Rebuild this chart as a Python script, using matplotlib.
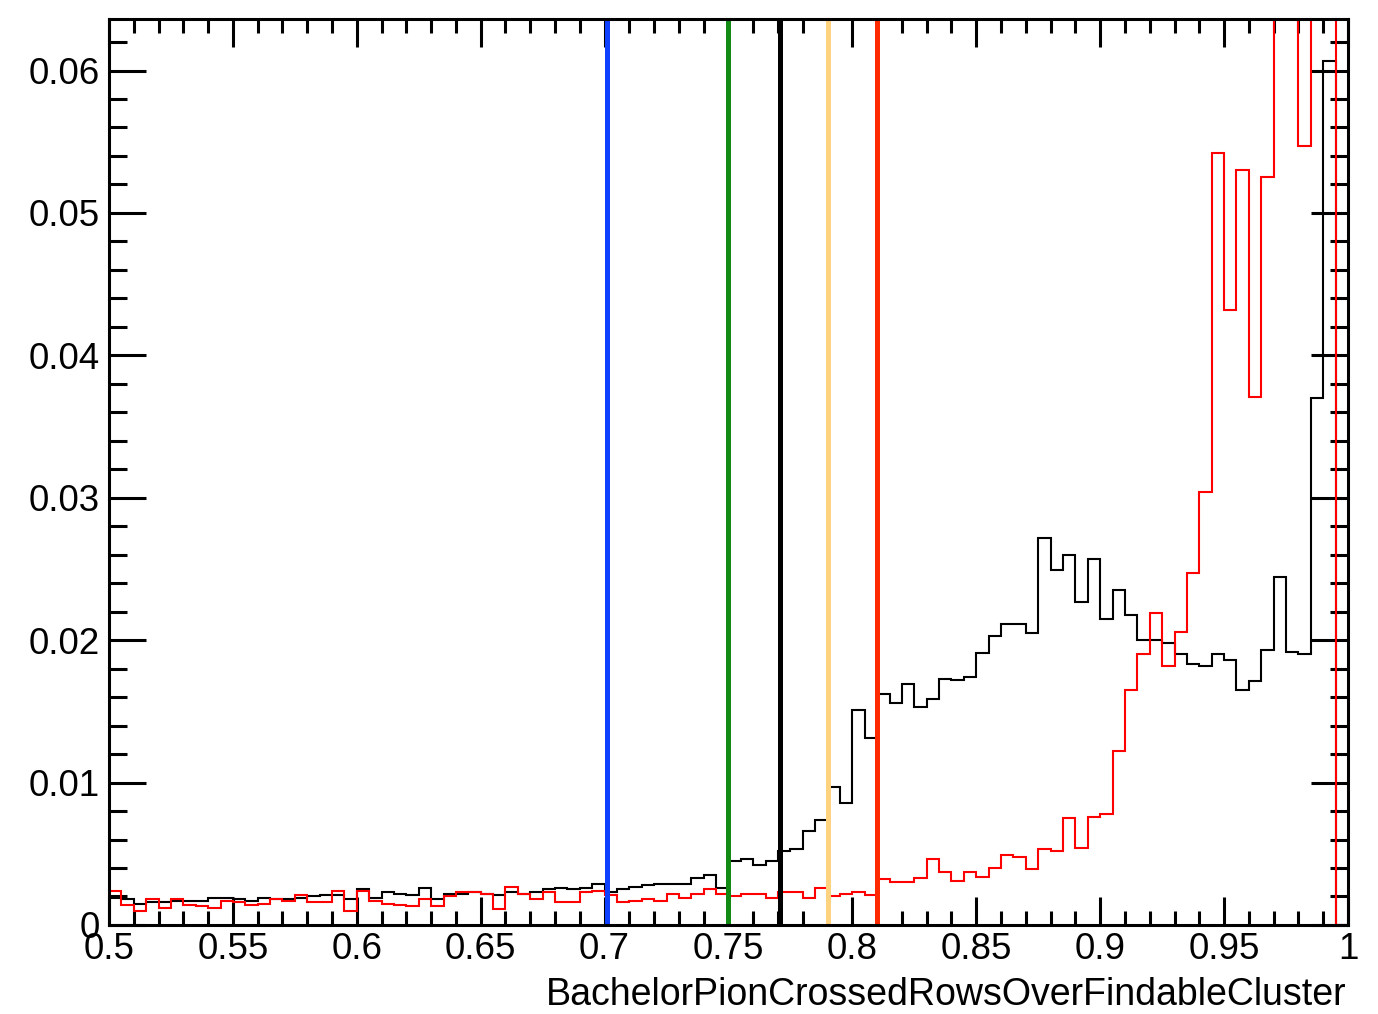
import numpy as np
import matplotlib
matplotlib.use("Agg")
import matplotlib.pyplot as plt
from matplotlib.ticker import MultipleLocator, FixedLocator, FixedFormatter

plt.rcParams['font.family'] = ['Liberation Sans', 'DejaVu Sans']

# 100 bins between 0.5 and 1.0
x_lo, x_hi, n_bins = 0.5, 1.0, 100

# black histogram
black_vals = [
    0.0019, 0.0018, 0.0015, 0.0016, 0.0016, 0.0017, 0.0017, 0.0017, 0.0019, 0.0019,
    0.0018, 0.0017, 0.0019, 0.0018, 0.0018, 0.0019, 0.0020, 0.0021, 0.0021, 0.0018,
    0.0025, 0.0019, 0.0023, 0.0022, 0.0021, 0.0026, 0.0018, 0.0022, 0.0022, 0.0023,
    0.0022, 0.0021, 0.0023, 0.0022, 0.0023, 0.0025, 0.0026, 0.0025, 0.0026, 0.0029,
    0.0023, 0.0025, 0.0027, 0.0028, 0.0029, 0.0029, 0.0029, 0.0033, 0.0035, 0.0026,
    0.0045, 0.0046, 0.0042, 0.0045, 0.0052, 0.0053, 0.0066, 0.0074, 0.0097, 0.0086,
    0.0151, 0.0131, 0.0162, 0.0156, 0.0169, 0.0153, 0.0159, 0.0173, 0.0172, 0.0174,
    0.0191, 0.0203, 0.0211, 0.0211, 0.0205, 0.0272, 0.0249, 0.0260, 0.0227, 0.0257,
    0.0215, 0.0235, 0.0218, 0.0200, 0.0200, 0.0198, 0.0190, 0.0183, 0.0182, 0.0190,
    0.0186, 0.0165, 0.0171, 0.0193, 0.0244, 0.0192, 0.0190, 0.0370, 0.0607, 0.0,
]

# red histogram (some bins run off the top of the frame)
red_vals = [
    0.0024, 0.0014, 0.0010, 0.0018, 0.0012, 0.0018, 0.0014, 0.0013, 0.0012, 0.0017,
    0.0016, 0.0014, 0.0015, 0.0018, 0.0017, 0.0021, 0.0016, 0.0016, 0.0024, 0.0010,
    0.0024, 0.0017, 0.0015, 0.0014, 0.0013, 0.0018, 0.0013, 0.0020, 0.0023, 0.0023,
    0.0022, 0.0011, 0.0027, 0.0022, 0.0018, 0.0023, 0.0016, 0.0016, 0.0023, 0.0024,
    0.0021, 0.0016, 0.0017, 0.0018, 0.0017, 0.0022, 0.0019, 0.0022, 0.0025, 0.0022,
    0.0020, 0.0022, 0.0022, 0.0019, 0.0023, 0.0023, 0.0019, 0.0026, 0.0020, 0.0022,
    0.0023, 0.0021, 0.0032, 0.0030, 0.0030, 0.0033, 0.0046, 0.0037, 0.0031, 0.0037,
    0.0034, 0.0040, 0.0049, 0.0048, 0.0039, 0.0053, 0.0052, 0.0075, 0.0054, 0.0076,
    0.0078, 0.0122, 0.0165, 0.0190, 0.0219, 0.0182, 0.0206, 0.0247, 0.0304, 0.0542,
    0.0432, 0.0530, 0.0371, 0.0525, 0.0750, 0.0700, 0.0547, 0.0800, 0.0950, 0.0,
]

# cut lines
cut_vals = [0.701, 0.75, 0.7707, 0.79, 0.81]
cut_colors = ['#1040ff', '#138a13', '#000000', '#ffd27f', '#ff2a00']

x_ticks = [0.5, 0.55, 0.6, 0.65, 0.7, 0.75, 0.8, 0.85, 0.9, 0.95, 1.0]
x_ticklabels = ['0.5', '0.55', '0.6', '0.65', '0.7', '0.75', '0.8', '0.85', '0.9', '0.95', '1']
y_ticks = [0, 0.01, 0.02, 0.03, 0.04, 0.05, 0.06]
y_ticklabels = ['0', '0.01', '0.02', '0.03', '0.04', '0.05', '0.06']
x_title = 'BachelorPionCrossedRowsOverFindableCluster'

edges = np.linspace(x_lo, x_hi, n_bins + 1)

fig = plt.figure(figsize=(13.78, 10.14), dpi=100)
ax = fig.add_axes([0.0791, 0.0878, 0.8991, 0.8932])

ax.stairs(black_vals, edges, color='black', lw=1.5, baseline=None, zorder=2)
ax.stairs(red_vals, edges, color='#ff0000', lw=1.5, baseline=None, zorder=3)
for xc, cc in zip(cut_vals, cut_colors):
    ax.axvline(xc, color=cc, lw=3.6, zorder=4)

ax.set_xlim(x_lo, x_hi)
ax.set_ylim(0, 0.0636)

ax.xaxis.set_major_locator(FixedLocator(x_ticks))
ax.xaxis.set_major_formatter(FixedFormatter(x_ticklabels))
ax.xaxis.set_minor_locator(MultipleLocator(0.01))
ax.yaxis.set_major_locator(FixedLocator(y_ticks))
ax.yaxis.set_major_formatter(FixedFormatter(y_ticklabels))
ax.yaxis.set_minor_locator(MultipleLocator(0.002))

for sp in ax.spines.values():
    sp.set_linewidth(2.2)
    sp.set_zorder(5)

ax.tick_params(which='both', direction='in', top=True, right=True, width=2.2,
               labelsize=26.5, colors='black')
ax.tick_params(axis='x', which='major', length=20, pad=5)
ax.tick_params(axis='x', which='minor', length=10)
ax.tick_params(axis='y', which='major', length=26.6, pad=6.5)
ax.tick_params(axis='y', which='minor', length=13)

fig.text(1346 / 1378, (1014 - 1005) / 1014, x_title, ha='right', va='baseline',
         fontsize=27)

fig.savefig('out.png', dpi=100)
